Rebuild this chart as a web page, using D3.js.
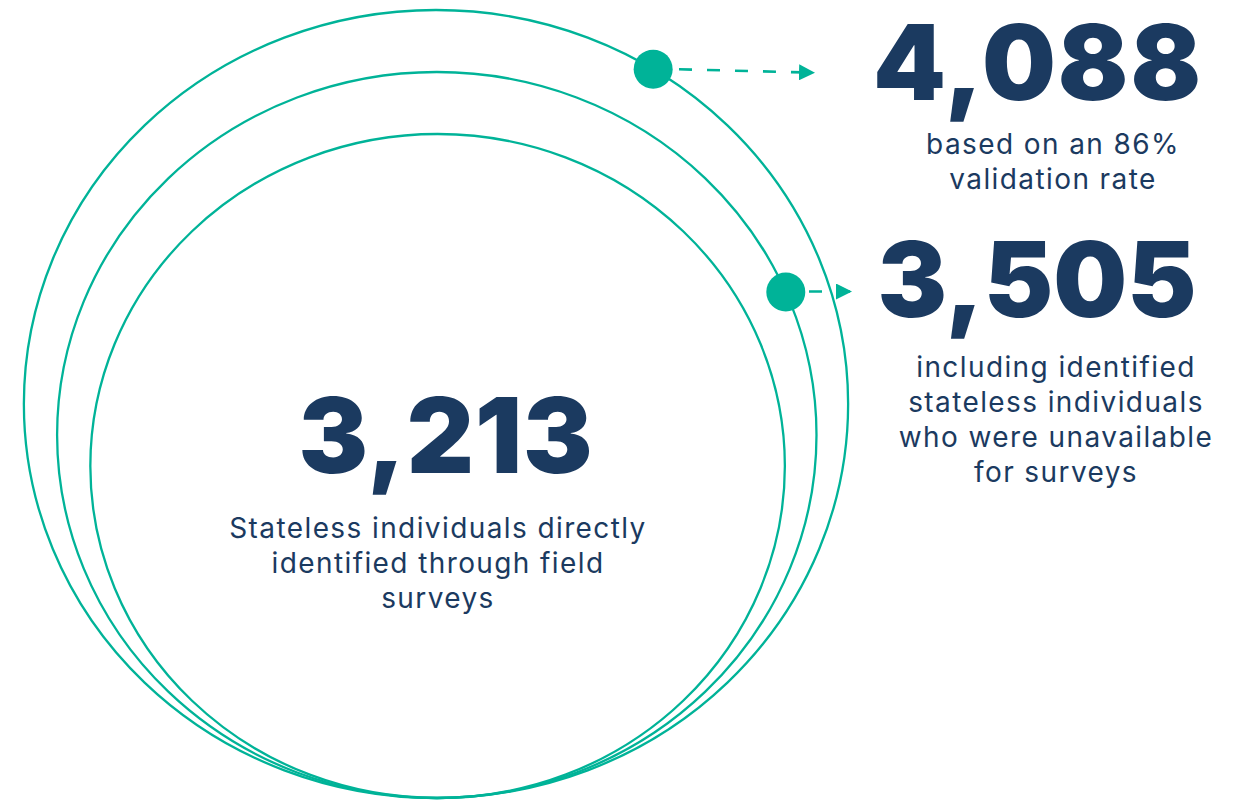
<!DOCTYPE html>
<html>
<head>
<meta charset="utf-8">
<script src="https://cdn.jsdelivr.net/npm/d3@7"></script>
<style>
  html, body { margin: 0; padding: 0; background: #ffffff; }
  svg { display: block; }
</style>
</head>
<body>
<svg id="chart" width="1240" height="800"></svg>
<script>
// Totals, from the widest estimate down to the directly surveyed count
const values = [4088, 3505, 3213];
const captions = [
  ["based on an 86%", "validation rate"],
  ["including identified", "stateless individuals", "who were unavailable", "for surveys"],
  ["Stateless individuals directly", "identified through field", "surveys"]
];

const teal = "#00b398";
const navy = "#1b3a60";
const fmt = d3.format(",");

const svg = d3.select("#chart");

// Rings share a common bottom point; each step inward shrinks the ring.
const baseY = 798;
const centerX = 436;
const stretch = 1.046;
const rScale = d3.scaleLinear().domain([0, values.length - 1]).range([394, 332]);

const rings = values.map((v, i) => {
  const r = rScale(i);
  return { value: v, i, rx: r * stretch, ry: r, cx: centerX + i * 0.8, cy: baseY - r };
});

svg.append("g")
  .selectAll("ellipse")
  .data(rings)
  .join("ellipse")
  .attr("cx", d => d.cx)
  .attr("cy", d => d.cy)
  .attr("rx", d => d.rx)
  .attr("ry", d => d.ry)
  .attr("fill", "none")
  .attr("stroke", teal)
  .attr("stroke-width", 2.3);

// Marker dots on the two outer rings, with dashed pointers to their totals
const markerAngles = [31.8, 66.8]; // degrees clockwise from the top of the ring
const pointerEnds = [
  { x1: 679, y1: 69.3, x2: 815, y2: 72.7 },
  { x1: 809, y1: 291.5, x2: 852, y2: 291.5 }
];

const defs = svg.append("defs");
defs.append("marker")
  .attr("id", "arrowHead")
  .attr("viewBox", "0 0 10 10")
  .attr("refX", 10)
  .attr("refY", 5)
  .attr("markerUnits", "userSpaceOnUse")
  .attr("markerWidth", 16)
  .attr("markerHeight", 16)
  .attr("orient", "auto")
  .append("path")
  .attr("d", "M0,0 L10,5 L0,10 Z")
  .attr("fill", teal);

const markers = markerAngles.map((a, i) => {
  const ring = rings[i];
  const t = a * Math.PI / 180;
  return { x: ring.cx + ring.rx * Math.sin(t), y: ring.cy - ring.ry * Math.cos(t), ...pointerEnds[i] };
});

svg.append("g")
  .selectAll("line")
  .data(markers)
  .join("line")
  .attr("x1", d => d.x1)
  .attr("y1", d => d.y1)
  .attr("x2", d => d.x2)
  .attr("y2", d => d.y2)
  .attr("stroke", teal)
  .attr("stroke-width", 2.6)
  .attr("stroke-dasharray", "13,15")
  .attr("marker-end", "url(#arrowHead)");

svg.append("g")
  .selectAll("circle")
  .data(markers)
  .join("circle")
  .attr("cx", d => d.x)
  .attr("cy", d => d.y)
  .attr("r", 19.5)
  .attr("fill", teal);

// Text blocks: big number then caption lines
const blocks = [
  { numX: 1038, numY: 100, capX: 1053, capY: 154, spacing: 2 },
  { numX: 1037, numY: 317, capX: 1056, capY: 377, spacing: 0 },
  { numX: 446, numY: 473, capX: 438, capY: 538, spacing: 1 }
];

const textG = svg.append("g");
values.forEach((v, i) => {
  const b = blocks[i];
  textG.append("text")
    .attr("x", b.numX)
    .attr("y", b.numY)
    .attr("text-anchor", "middle")
    .attr("font-family", "Inter, 'Noto Sans', sans-serif")
    .attr("font-weight", 900)
    .attr("font-size", 104)
    .attr("letter-spacing", b.spacing)
    .attr("fill", navy)
    .text(fmt(v));

  textG.append("text")
    .attr("text-anchor", "middle")
    .attr("font-family", "Inter, 'Noto Sans', sans-serif")
    .attr("font-weight", 400)
    .attr("font-size", 28)
    .attr("letter-spacing", 1.4)
    .attr("fill", navy)
    .selectAll("tspan")
    .data(captions[i])
    .join("tspan")
    .attr("x", b.capX)
    .attr("y", (d, j) => b.capY + j * 35)
    .text(d => d);
});
</script>
</body>
</html>
